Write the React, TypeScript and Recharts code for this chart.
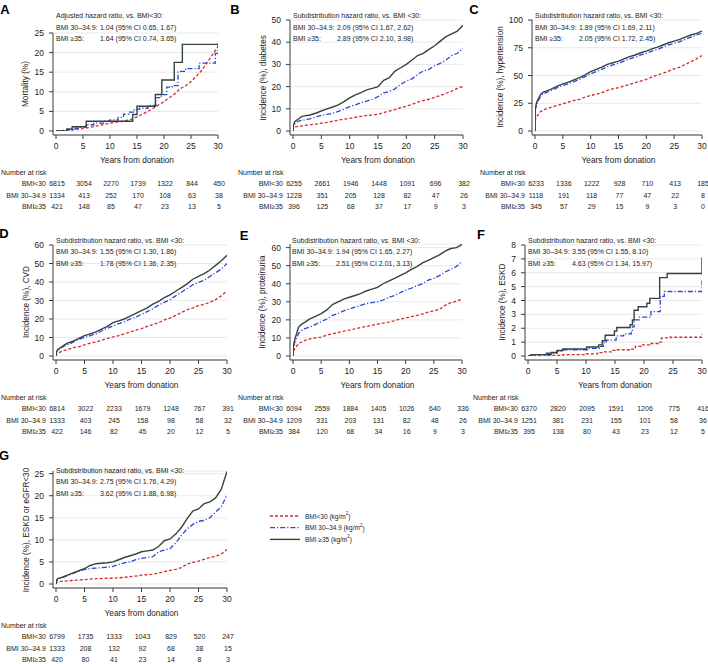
import React from "react";
import { CartesianGrid, Line, LineChart, XAxis, YAxis } from "recharts";

const FONT = '"Liberation Sans", Arial, Helvetica, sans-serif';
const INK = "#1d1d1d";
const AXIS = "#3c3c3c";
const GRID = "#e3e3e3";

const YEAR_TICKS = [0, 5, 10, 15, 20, 25, 30];
const RISK_LABELS = ["BMI<30", "BMI 30–34.9", "BMI≥35"];
const LEGEND_LABELS = ["BMI<30", "BMI 30–34.9", "BMI ≥35"];

// red dashed, blue dash-dot, dark solid
const GROUP_STYLE = [
  { color: "#d42b2b", dash: "3 2", width: 1.3 },
  { color: "#2b46dd", dash: "5 2 1.2 2", width: 1.3 },
  { color: "#34453e", dash: undefined, width: 1.4 },
];

// shared time grid for the dense cumulative incidence curves
const GRID_T = [0, 0.05, 0.3, 1, 1.5, 2, 3, 4, 5, 6, 7, 8, 9, 10, 11, 12, 13, 14, 15, 16, 17, 18, 19, 20, 21, 22, 23, 24, 25, 26, 27, 28, 29, 30];

// A: mortality
const A_T_LT30 = [0, 2, 5, 8, 10, 12, 14, 15.5, 17, 18.5, 20, 21, 22, 23, 24, 25, 26, 27, 28, 29, 30];
const A_LT30 = [0, 0.2, 0.6, 1.4, 2, 2.4, 3, 3.9, 5, 6.2, 7.5, 8.5, 9.5, 10.8, 11.5, 12.6, 14, 15.5, 17.5, 19.5, 21.6];
const A_T_MID = [0, 2, 3.5, 4.5, 5.5, 7, 9, 10, 11.5, 12.5, 13.5, 14.5, 15.5, 17, 18.5, 19.5, 20.5, 21.5, 22.6, 24, 26.5, 28.8, 29.5, 30];
const A_MID = [0, 0.3, 0.7, 1, 1.6, 2, 2.5, 2.8, 3.5, 4.3, 4.8, 5.6, 5.8, 6.5, 8.5, 9.3, 11.2, 11.6, 15.2, 15.9, 17.3, 17.3, 19.8, 22.6];
const A_T_HI = [0, 2, 3, 5.6, 14.2, 15, 18.4, 19.6, 21.9, 23.4, 30];
const A_HI = [0, 0.5, 1.1, 2.5, 4.2, 6.3, 9.3, 13, 17.5, 22.1, 22.1];

// B: diabetes
const B_LT30 = [0, 1.2, 1.8, 2.1, 2.3, 2.5, 2.8, 3.1, 3.5, 3.9, 4.4, 4.9, 5.3, 5.7, 6.2, 6.6, 7, 7.2, 7.5, 8.3, 9, 9.6, 10.5, 11.2, 12, 13, 13.7, 14.3, 15.2, 16, 17, 18, 19.2, 20];
const B_MID = [0, 2, 3.2, 4.5, 4.8, 5, 5.5, 6.3, 7, 7.5, 8, 8.8, 9.8, 11, 11.8, 12.8, 13.5, 14.3, 15.5, 17.2, 17.8, 19, 21, 22.5, 23.5, 25.5, 27, 27.8, 29.4, 30.5, 32, 34, 35, 37.2];
const B_HI = [0, 2.5, 4.2, 5.5, 6.5, 6.8, 7.2, 8, 9, 10, 10.8, 11.8, 13.2, 14.9, 16.3, 17.3, 18.5, 19.2, 20, 22.8, 24, 27, 28.5, 30, 32, 34, 35, 36.8, 38.4, 40.5, 42.5, 43.8, 45, 47.6];

// C: hypertension
const C_LT30 = [0, 10, 13, 17.5, 19, 20, 21.5, 23, 24.5, 26, 27.5, 28.5, 30.5, 32, 33, 34.5, 36.5, 38, 39, 40.5, 42, 43.5, 45, 46.5, 48.5, 50.5, 52, 54, 56, 57.5, 60, 62.5, 65, 68];
const C_MID = [0, 19, 24, 31.5, 33.5, 34.5, 36.5, 39, 41, 42.5, 44.5, 46.5, 49, 51.5, 53.5, 55.5, 58, 59.5, 61, 63, 65, 66.5, 68.5, 70, 72, 73.5, 75.5, 77.5, 79, 80.5, 82.5, 84.5, 86.5, 88];
const C_HI = [0, 20, 26, 33, 35, 36, 38, 40.5, 42.5, 44, 46, 48, 50.5, 53.5, 55.5, 57.5, 60, 61.5, 63, 65, 67, 68.5, 70.5, 72, 74, 75.5, 77.5, 79.5, 81, 82.5, 84.5, 86.5, 88, 90];

// D: CVD
const D_LT30 = [0, 1, 1.5, 2.5, 3, 3.5, 4.5, 5, 6, 7, 7.5, 8.5, 9.5, 10.3, 11, 12, 13, 14, 14.8, 16, 17, 18, 19.5, 20.5, 22, 23.5, 25, 26, 27.2, 28, 29, 30.5, 32.5, 35.2];
const D_MID = [0, 2, 3, 4.5, 5.5, 6, 7.5, 9, 10, 11, 12, 13.5, 15, 16.3, 17.5, 18.5, 20, 21, 22.5, 24, 25.5, 27.5, 29, 30.5, 32.5, 34.5, 36.5, 38.5, 39.8, 41, 43, 45, 47, 50];
const D_HI = [0, 2, 3.5, 5, 6, 7, 8, 9.5, 11, 12, 13, 14.5, 16, 18, 19, 20, 21.5, 23, 24.5, 26, 28, 29.5, 31.5, 33, 35, 37, 39, 41.5, 43, 44.5, 46.5, 49, 51.5, 54.5];

// E: proteinuria
const E_LT30 = [0, 2, 4, 7, 7.7, 8.5, 9.5, 10, 10.5, 11.5, 12.3, 13, 13.8, 14.3, 15, 15.8, 16.3, 17, 17.6, 18.2, 18.8, 19.5, 20.5, 21, 21.8, 22.5, 23.3, 24.3, 25, 25.8, 28, 29.5, 30.3, 31.5];
const E_MID = [0, 4, 7.5, 12.5, 14, 15, 16, 17.5, 19, 20.5, 22.5, 23.5, 25, 26, 27, 28, 29, 29.5, 30, 31, 32.5, 33.5, 35, 36.5, 37.5, 39, 40, 42, 43, 44.5, 46.5, 48, 49.5, 52.5];
const E_HI = [0, 5, 9, 16, 17.5, 18.5, 20.5, 22, 23.5, 25.5, 28.5, 30, 31.5, 32.5, 33.5, 34.5, 36, 37, 38, 40, 41.5, 43, 44.5, 46, 48, 49.5, 51.5, 53, 54.5, 56, 58, 59.5, 60, 61.8];

// F: ESKD
const F_T_LT30 = [0, 3, 6, 10, 12, 13, 14.5, 15, 17.5, 18.5, 19.5, 21, 22.5, 23, 24.5, 30];
const F_LT30 = [0, 0.05, 0.1, 0.15, 0.25, 0.3, 0.4, 0.45, 0.5, 0.7, 0.8, 0.9, 1.0, 1.3, 1.35, 1.6];
const F_T_MID = [0, 1, 3, 5, 6, 10.5, 12.5, 13, 13.5, 15.2, 16.5, 17.8, 18, 18.3, 19.2, 21.2, 22.8, 23.5, 30];
const F_MID = [0, 0.1, 0.2, 0.35, 0.45, 0.55, 0.7, 0.95, 1.15, 1.45, 1.6, 1.8, 2.1, 2.6, 2.8, 3.2, 4.3, 4.65, 5.5];
const F_T_HI = [0, 0.5, 4, 5, 6, 10.1, 12.2, 12.8, 13.3, 14.9, 15.3, 17.6, 18, 18.3, 19, 20.5, 21, 22.7, 24, 30];
const F_HI = [0, 0.1, 0.25, 0.4, 0.5, 0.65, 0.8, 1.1, 1.5, 1.8, 2.05, 2.25, 2.6, 3.3, 3.55, 3.8, 4.15, 5.65, 5.95, 7.1];

// G: ESKD or eGFR<30
const G_LT30 = [0, 0.3, 0.45, 0.6, 0.65, 0.7, 0.8, 0.9, 1, 1.1, 1.2, 1.25, 1.3, 1.3, 1.4, 1.5, 1.65, 1.8, 2, 2.1, 2.2, 2.5, 2.8, 3.1, 3.3, 3.7, 4.5, 4.9, 5.2, 5.6, 6, 6.3, 6.8, 7.8];
const G_MID = [0, 0.6, 1, 1.4, 1.6, 1.9, 2.4, 2.9, 3.3, 3.5, 3.6, 3.7, 3.8, 4, 4.4, 4.8, 5, 5.5, 5.8, 6, 6.2, 7.3, 7.7, 8, 9.3, 11, 12.5, 13.5, 14.2, 14.4, 15, 16.3, 17.5, 20.2];
const G_HI = [0, 0.8, 1.2, 1.5, 1.8, 2, 2.5, 3, 3.5, 4.2, 4.6, 4.7, 4.8, 5, 5.5, 6, 6.4, 6.8, 7.3, 7.5, 7.7, 8.5, 9.8, 10.2, 11.3, 12.8, 14.8, 16.5, 17, 18.2, 18.6, 19.5, 21.5, 25.5];

// numbers at risk at 0, 5, ..., 30 years
const A_RISK_LT30 = [6815, 3054, 2270, 1739, 1322, 844, 450];
const A_RISK_MID = [1334, 413, 252, 170, 108, 63, 38];
const A_RISK_HI = [421, 148, 85, 47, 23, 13, 5];
const B_RISK_LT30 = [6255, 2661, 1946, 1448, 1091, 696, 382];
const B_RISK_MID = [1228, 351, 205, 128, 82, 47, 26];
const B_RISK_HI = [396, 125, 68, 37, 17, 9, 3];
const C_RISK_LT30 = [6233, 1336, 1222, 928, 710, 413, 185];
const C_RISK_MID = [1118, 191, 118, 77, 47, 22, 8];
const C_RISK_HI = [345, 57, 29, 15, 9, 3, 0];
const D_RISK_LT30 = [6814, 3022, 2233, 1679, 1248, 767, 391];
const D_RISK_MID = [1333, 403, 245, 158, 98, 58, 32];
const D_RISK_HI = [422, 146, 82, 45, 20, 12, 5];
const E_RISK_LT30 = [6094, 2559, 1884, 1405, 1026, 640, 336];
const E_RISK_MID = [1209, 331, 203, 131, 82, 48, 26];
const E_RISK_HI = [384, 120, 68, 34, 16, 9, 3];
const F_RISK_LT30 = [6370, 2820, 2095, 1591, 1206, 775, 416];
const F_RISK_MID = [1251, 381, 231, 155, 101, 58, 36];
const F_RISK_HI = [395, 138, 80, 43, 23, 12, 5];
const G_RISK_LT30 = [6799, 1735, 1333, 1043, 829, 520, 247];
const G_RISK_MID = [1333, 208, 132, 92, 68, 38, 15];
const G_RISK_HI = [420, 80, 41, 23, 14, 8, 3];

const SUBDIST = "Subdistribution hazard ratio, vs. BMI <30:";

const pts = (t: number[], v: number[]) => t.map((x, i) => ({ t: x, v: v[i] }));
const dense = (lt: number[], mid: number[], hi: number[]) => [
  { data: pts(GRID_T, lt), type: "linear" },
  { data: pts(GRID_T, mid), type: "linear" },
  { data: pts(GRID_T, hi), type: "linear" },
];

const panels = [
  {
    letter: "A", letterAt: [5, 9], left: 0, top: 0, width: 244, height: 215,
    margin: { top: 33, right: 26, bottom: 0, left: 23 },
    yDomain: [0, 25], yTicks: [0, 5, 10, 15, 20, 25],
    yTitle: "Mortality (%)", yTitleAt: [25, 84],
    annotAt: [56, 15.5], head: "Adjusted hazard ratio, vs. BMI<30:",
    hr: ["1.04 (95% CI 0.65, 1.67)", "1.64 (95% CI 0.74, 3.65)"],
    risk: [A_RISK_LT30, A_RISK_MID, A_RISK_HI],
    series: [
      { data: pts(A_T_LT30, A_LT30), type: "linear" },
      { data: pts(A_T_MID, A_MID), type: "stepAfter" },
      { data: pts(A_T_HI, A_HI), type: "stepAfter" },
    ],
  },
  {
    letter: "B", letterAt: [235, 9], left: 232, top: 0, width: 246, height: 215,
    margin: { top: 20, right: 15, bottom: 0, left: 28 },
    yDomain: [0, 50], yTicks: [0, 10, 20, 30, 40, 50],
    yTitle: "Incidence (%), diabetes", yTitleAt: [263, 78],
    annotAt: [293, 15.5], head: SUBDIST,
    hr: ["2.09 (95% CI 1.67, 2.62)", "2.89 (95% CI 2.10, 3.98)"],
    risk: [B_RISK_LT30, B_RISK_MID, B_RISK_HI],
    series: dense(B_LT30, B_MID, B_HI),
  },
  {
    letter: "C", letterAt: [474, 9], left: 468, top: 0, width: 246, height: 215,
    margin: { top: 20, right: 12, bottom: 0, left: 34 },
    yDomain: [0, 100], yTicks: [0, 25, 50, 75, 100],
    yTitle: "Incidence (%), hypertension", yTitleAt: [500, 77],
    annotAt: [535, 15.5], head: SUBDIST,
    hr: ["1.89 (95% CI 1.69, 2.11)", "2.05 (95% CI 1.72, 2.45)"],
    risk: [C_RISK_LT30, C_RISK_MID, C_RISK_HI],
    series: dense(C_LT30, C_MID, C_HI),
  },
  {
    letter: "D", letterAt: [4, 233], left: 0, top: 225, width: 242, height: 215,
    margin: { top: 20, right: 15, bottom: 0, left: 23 },
    yDomain: [0, 60], yTicks: [0, 10, 20, 30, 40, 50, 60],
    yTitle: "Incidence (%), CVD", yTitleAt: [26, 302],
    annotAt: [56, 240], head: SUBDIST,
    hr: ["1.55 (95% CI 1.30, 1.86)", "1.78 (95% CI 1.36, 2.35)"],
    risk: [D_RISK_LT30, D_RISK_MID, D_RISK_HI],
    series: dense(D_LT30, D_MID, D_HI),
  },
  {
    letter: "E", letterAt: [244, 235], left: 232, top: 225, width: 246, height: 215,
    margin: { top: 19, right: 16, bottom: 0, left: 28 },
    yDomain: [0, 62], yTicks: [0, 10, 20, 30, 40, 50, 60],
    yTitle: "Incidence (%), proteinuria", yTitleAt: [262, 302],
    annotAt: [292, 240], head: SUBDIST,
    hr: ["1.94 (95% CI 1.65, 2.27)", "2.51 (95% CI 2.01, 3.13)"],
    risk: [E_RISK_LT30, E_RISK_MID, E_RISK_HI],
    series: dense(E_LT30, E_MID, E_HI),
  },
  {
    letter: "F", letterAt: [481, 234], left: 468, top: 225, width: 246, height: 215,
    margin: { top: 20, right: 12, bottom: 0, left: 27 },
    yDomain: [0, 8], yTicks: [0, 1, 2, 3, 4, 5, 6, 7, 8],
    yTitle: "Incidence (%), ESKD", yTitleAt: [502, 302],
    annotAt: [528, 240], head: SUBDIST,
    hr: ["3.55 (95% CI 1.55, 8.10)", "4.63 (95% CI 1.34, 15.97)"],
    risk: [F_RISK_LT30, F_RISK_MID, F_RISK_HI],
    series: [
      { data: pts(F_T_LT30, F_LT30), type: "stepAfter" },
      { data: pts(F_T_MID, F_MID), type: "stepAfter" },
      { data: pts(F_T_HI, F_HI), type: "stepAfter" },
    ],
  },
  {
    letter: "G", letterAt: [4, 455], left: 0, top: 450, width: 242, height: 218,
    margin: { top: 21, right: 15, bottom: 0, left: 23 },
    yDomain: [0, 25.6], yTicks: [0, 5, 10, 15, 20, 25],
    yTitle: "Incidence (%), ESKD or eGFR<30", yTitleAt: [26, 530],
    annotAt: [56, 470], head: SUBDIST,
    hr: ["2.75 (95% CI 1.76, 4.29)", "3.62 (95% CI 1.88, 6.98)"],
    risk: [G_RISK_LT30, G_RISK_MID, G_RISK_HI],
    series: dense(G_LT30, G_MID, G_HI),
  },
];

const TICK_SIZE = 4;
const TICK_MARGIN = 2;
const ROW_DY = [48.5, 60, 71.5];
const HR_COL = 44;

function RiskTick(props: any) {
  const { x, y, payload, risk } = props;
  const base = y - TICK_SIZE - TICK_MARGIN;
  const i = YEAR_TICKS.indexOf(payload.value);
  return (
    <g fontFamily={FONT} fill={INK}>
      <text x={x} y={base + 11} textAnchor="middle" dominantBaseline="central" fontSize={8.5}>
        {payload.value}
      </text>
      {payload.value === 15 && (
        <text x={x} y={base + 25} textAnchor="middle" dominantBaseline="central" fontSize={8.3}>
          Years from donation
        </text>
      )}
      {i === 0 && (
        <text x={x - 55} y={base + 37.5} dominantBaseline="central" fontSize={7}>
          Number at risk
        </text>
      )}
      {risk.map((row: number[], r: number) => (
        <text key={r} x={x + 1} y={base + ROW_DY[r]} textAnchor="middle" dominantBaseline="central" fontSize={7}>
          {row[i]}
        </text>
      ))}
      {i === 0 &&
        RISK_LABELS.map((lab, r) => (
          <text key={lab} x={x - 10} y={base + ROW_DY[r]} textAnchor="end" dominantBaseline="central" fontSize={7}>
            {lab}
          </text>
        ))}
    </g>
  );
}

function Panel({ p }: { p: any }) {
  return (
    <div style={{ position: "absolute", left: p.left, top: p.top }}>
      <LineChart width={p.width} height={p.height} margin={p.margin}>
        <CartesianGrid horizontal vertical={false} stroke={GRID} strokeWidth={0.8} />
        <XAxis
          dataKey="t"
          type="number"
          domain={[0, 30]}
          ticks={YEAR_TICKS}
          interval={0}
          allowDataOverflow
          padding={{ left: 3, right: 0 }}
          height={80}
          tickSize={TICK_SIZE}
          tickMargin={TICK_MARGIN}
          axisLine={{ stroke: AXIS }}
          tickLine={{ stroke: AXIS }}
          tick={(tp: any) => <RiskTick {...tp} risk={p.risk} />}
        />
        <YAxis
          type="number"
          domain={p.yDomain}
          ticks={p.yTicks}
          interval={0}
          allowDataOverflow
          width={30}
          padding={{ top: 0, bottom: 4 }}
          tickSize={4}
          tickMargin={5}
          axisLine={{ stroke: AXIS }}
          tickLine={{ stroke: AXIS }}
          tick={{ fontSize: 8.5, fill: INK, fontFamily: FONT }}
        />
        {p.series.map((s: any, i: number) => (
          <Line
            key={i}
            data={s.data}
            dataKey="v"
            type={s.type}
            stroke={GROUP_STYLE[i].color}
            strokeDasharray={GROUP_STYLE[i].dash}
            strokeWidth={GROUP_STYLE[i].width}
            dot={false}
            activeDot={false}
            isAnimationActive={false}
          />
        ))}
      </LineChart>
    </div>
  );
}

function Overlay() {
  return (
    <svg
      width={708}
      height={664}
      style={{ position: "absolute", left: 0, top: 0, pointerEvents: "none" }}
      fontFamily={FONT}
      fill={INK}
    >
      {panels.map((p) => {
        const [ax, ay] = p.annotAt;
        return (
          <g key={p.letter}>
            <text x={p.letterAt[0]} y={p.letterAt[1]} textAnchor="middle" dominantBaseline="central" fontSize={13} fontWeight="bold" fill="#000">
              {p.letter}
            </text>
            <text
              transform={`translate(${p.yTitleAt[0]},${p.yTitleAt[1]}) rotate(-90)`}
              textAnchor="middle"
              dominantBaseline="central"
              fontSize={8.2}
            >
              {p.yTitle}
            </text>
            <text x={ax} y={ay} dominantBaseline="central" fontSize={7}>{p.head}</text>
            <text x={ax} y={ay + 11.5} dominantBaseline="central" fontSize={7}>BMI 30–34.9:</text>
            <text x={ax + HR_COL} y={ay + 11.5} dominantBaseline="central" fontSize={7}>{p.hr[0]}</text>
            <text x={ax} y={ay + 23} dominantBaseline="central" fontSize={7}>BMI ≥35:</text>
            <text x={ax + HR_COL} y={ay + 23} dominantBaseline="central" fontSize={7}>{p.hr[1]}</text>
          </g>
        );
      })}
      {LEGEND_LABELS.map((lab, i) => {
        const y = 516 + i * 11.7;
        return (
          <g key={lab}>
            <line
              x1={270}
              x2={300}
              y1={y}
              y2={y}
              stroke={GROUP_STYLE[i].color}
              strokeWidth={GROUP_STYLE[i].width}
              strokeDasharray={GROUP_STYLE[i].dash}
            />
            <text x={305} y={y} dominantBaseline="central" fontSize={6.5}>
              {lab} (kg/m
              <tspan dy={-3} fontSize={4.5}>2</tspan>
              <tspan dy={3}>)</tspan>
            </text>
          </g>
        );
      })}
    </svg>
  );
}

export default function App() {
  return (
    <div
      style={{
        position: "absolute",
        left: 0,
        top: 0,
        width: 708,
        height: 664,
        overflow: "hidden",
        background: "#fff",
        fontFamily: FONT,
      }}
    >
      {panels.map((p) => (
        <Panel key={p.letter} p={p} />
      ))}
      <Overlay />
    </div>
  );
}
